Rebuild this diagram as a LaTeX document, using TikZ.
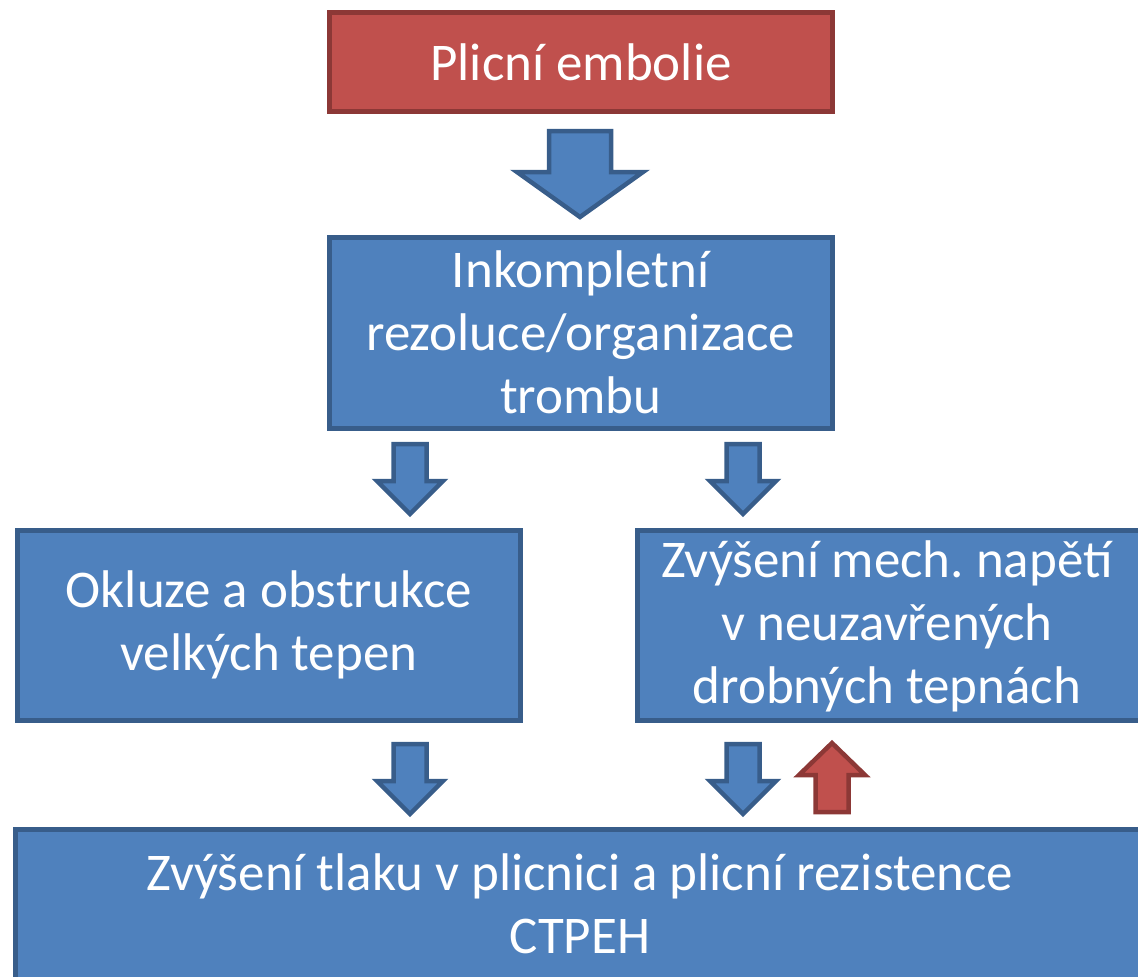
\documentclass[tikz,border=0pt]{standalone}
\usepackage{fontspec}
\setmainfont{Carlito}
\frenchspacing
\definecolor{bfill}{HTML}{4F81BD}
\definecolor{bline}{HTML}{385D8A}
\definecolor{rfill}{HTML}{C0504D}
\definecolor{rline}{HTML}{8C3836}
\newcommand\blockarr[7]{% style, x, y0, shaft half, head offset, head half, length
  \draw[#1] ({#2-#4},#3) -- ({#2+#4},#3) -- ({#2+#4},{#3+#5}) -- ({#2+#6},{#3+#5}) -- (#2,{#3+#7}) -- ({#2-#6},{#3+#5}) -- ({#2-#4},{#3+#5}) -- cycle;}
\begin{document}
\begin{tikzpicture}[x=1pt,y=-1pt,
  txt/.style={font=\fontsize{53}{63}\selectfont, text=white, align=center, inner sep=0pt},
  bluebox/.style={txt, fill=bfill, draw=bline, line width=4.5pt, rectangle, anchor=north west},
  redbox/.style={txt, fill=rfill, draw=rline, line width=5pt, rectangle, anchor=north west},
  barr/.style={fill=bfill, draw=bline, line width=4.5pt, line join=miter},
  rarr/.style={fill=rfill, draw=rline, line width=4.5pt, line join=miter}]
\useasboundingbox (0,0) rectangle (1138,977);
\begin{scope}
\clip (0,0) rectangle (1138,977);
\node[redbox, minimum width=503pt, minimum height=99pt] (pe) at (327,10) {Plicní embolie};
\node[bluebox, minimum width=503pt, minimum height=191pt] (ink) at (327,235) {Inkompletní\\rezoluce/organizace\\trombu};
\node[bluebox, minimum width=503pt, minimum height=190pt] (okl) at (15,528) {Okluze a obstrukce\\velkých tepen};
\node[bluebox, minimum width=520pt, minimum height=190pt] (zvm) at (635,528) {};
\node[txt] (zvmtext) at (887,626) {Zvýšení mech. napětí\\v neuzavřených\\drobných tepnách};
\node[bluebox, minimum width=1136pt, minimum height=170pt] (zvt) at (13,827) {};
\node[txt] (zvttext) at (580,904) {Zvýšení tlaku v plicnici a plicní rezistence\\CTPEH};
\blockarr{barr}{580}{131}{31}{41}{63}{86}
\blockarr{barr}{410}{444}{16.5}{37}{33}{70}
\blockarr{barr}{743}{444}{16.5}{37}{33}{70}
\blockarr{barr}{410}{744}{16.5}{37}{33}{70}
\blockarr{barr}{743}{744}{16.5}{37}{33}{70}
\blockarr{rarr}{832}{812}{16.5}{-37}{33}{-69}
\end{scope}
\end{tikzpicture}
\end{document}
